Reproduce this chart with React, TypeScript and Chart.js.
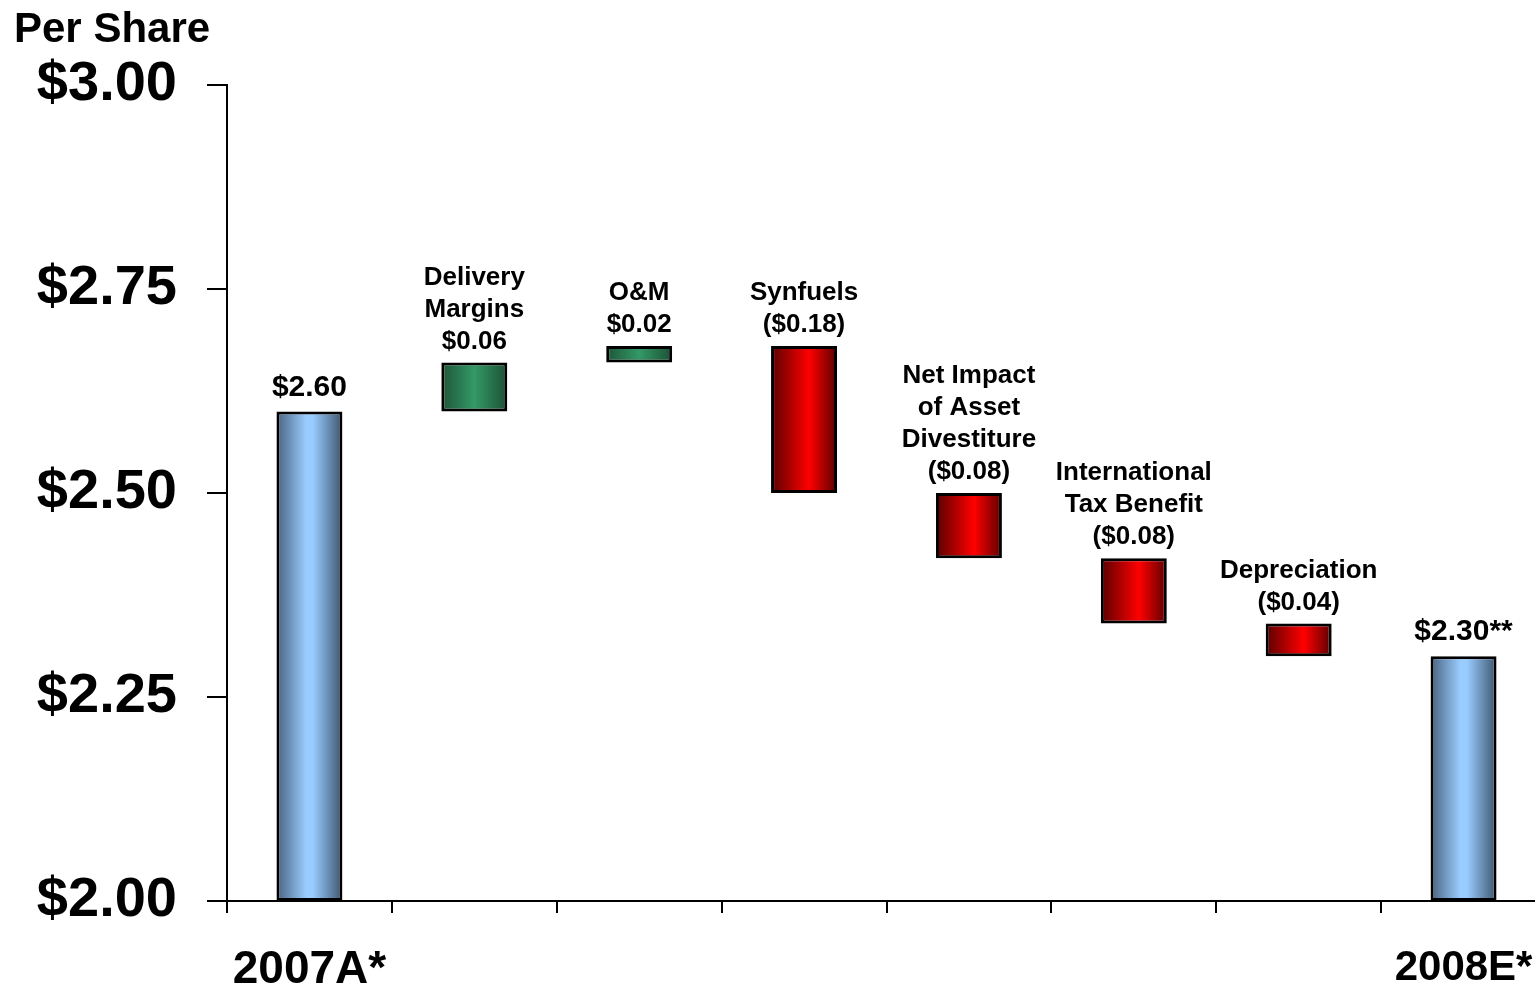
import React, { useEffect, useRef } from "react";
import { Chart, registerables } from "chart.js";

Chart.register(...registerables);

// ---- data ----
const axisLabels = ["2007A*", "", "", "", "", "", "", "2008E*"];
const startValue = 2.6;
const endValue = 2.3;
const changes = [0.06, 0.02, -0.18, -0.08, -0.08, -0.04];
const baseValue = 2.0;
const barKinds = ["total", "up", "up", "down", "down", "down", "down", "total"];
const barNotes: string[][] = [
  ["$2.60"],
  ["Delivery", "Margins", "$0.06"],
  ["O&M", "$0.02"],
  ["Synfuels", "($0.18)"],
  ["Net Impact", "of Asset", "Divestiture", "($0.08)"],
  ["International", "Tax Benefit", "($0.08)"],
  ["Depreciation", "($0.04)"],
  ["$2.30**"],
];
const yMin = 2.0;
const yMax = 3.0;
const yStep = 0.25;

function buildRanges(): [number, number][] {
  const out: [number, number][] = [[baseValue, startValue]];
  let running = startValue;
  for (const c of changes) {
    const next = Math.round((running + c) * 1000) / 1000;
    out.push([running, next]);
    running = next;
  }
  out.push([baseValue, endValue]);
  return out;
}

const FONT = "'Liberation Sans', Arial, Helvetica, sans-serif";

const gradientStops: Record<string, [number, string][]> = {
  total: [
    [0, "#48627e"],
    [0.45, "#99ccff"],
    [0.55, "#99ccff"],
    [1, "#3e556e"],
  ],
  up: [
    [0, "#1d5538"],
    [0.5, "#339966"],
    [1, "#1c5035"],
  ],
  down: [
    [0, "#5a0000"],
    [0.58, "#ff0000"],
    [1, "#5a0000"],
  ],
};

const barNotesPlugin = {
  id: "barNotes",
  afterDatasetsDraw(chart: any) {
    const ctx = chart.ctx;
    const meta = chart.getDatasetMeta(0);
    ctx.save();
    ctx.fillStyle = "#000";
    ctx.textAlign = "center";
    ctx.textBaseline = "middle";
    meta.data.forEach((bar: any, i: number) => {
      const top = Math.min(bar.y, bar.base);
      const lines = barNotes[i];
      const n = lines.length;
      const isTotal = barKinds[i] === "total";
      ctx.font = `bold ${isTotal ? 30 : 26}px ${FONT}`;
      lines.forEach((line, j) => {
        ctx.fillText(line, bar.x, top - (isTotal ? 24 : 21) - (n - 1 - j) * 32);
      });
    });
    // "Per Share" heading
    ctx.font = `bold 42px ${FONT}`;
    ctx.textAlign = "left";
    ctx.fillText("Per Share", 14, 30);
    ctx.restore();
  },
};

export default function App() {
  const ref = useRef<HTMLCanvasElement | null>(null);

  useEffect(() => {
    if (!ref.current) return;
    const ranges = buildRanges();
    const chart = new Chart(ref.current, {
      type: "bar",
      data: {
        labels: axisLabels,
        datasets: [
          {
            data: ranges as any,
            backgroundColor: (c: any) => {
              const ch = c.chart;
              const kind = barKinds[c.dataIndex] || "total";
              const xs = ch.scales?.x;
              const area = ch.chartArea;
              if (!xs || !area) return gradientStops[kind][1][1];
              const cx = xs.getPixelForValue(c.dataIndex);
              const w = ((area.right - area.left) / axisLabels.length) * 0.4;
              const g = ch.ctx.createLinearGradient(cx - w / 2, 0, cx + w / 2, 0);
              for (const [o, col] of gradientStops[kind]) g.addColorStop(o, col);
              return g;
            },
            borderColor: "#000",
            borderWidth: 3,
            borderSkipped: false,
            barPercentage: 0.4,
            categoryPercentage: 1,
          },
        ],
      },
      options: {
        animation: false,
        responsive: false,
        devicePixelRatio: 1,
        layout: { padding: { top: 85, right: 14, left: 0, bottom: 0 } },
        plugins: { legend: { display: false }, tooltip: { enabled: false } },
        scales: {
          x: {
            offset: true,
            grid: {
              display: true,
              offset: true,
              drawOnChartArea: false,
              drawTicks: true,
              tickLength: 12,
              color: "#000",
              lineWidth: 2,
            },
            border: { display: true, color: "#000", width: 2 },
            ticks: {
              autoSkip: false,
              maxRotation: 0,
              color: "#000",
              padding: 30,
              font: (c: any) => ({
                family: FONT,
                size: c.index === axisLabels.length - 1 ? 42 : 46,
                weight: "bold",
              }),
            },
            afterFit: (s: any) => {
              s.height = 86;
              s.paddingLeft = 0;
              s.paddingRight = 0;
            },
          },
          y: {
            min: yMin,
            max: yMax,
            grid: {
              display: true,
              drawOnChartArea: false,
              drawTicks: true,
              tickLength: 20,
              color: "#000",
              lineWidth: 2,
            },
            border: { display: true, color: "#000", width: 2 },
            ticks: {
              stepSize: yStep,
              color: "#000",
              padding: 30,
              font: { family: FONT, size: 56, weight: "bold" },
              callback: (v: any) => "$" + Number(v).toFixed(2),
            },
            afterFit: (s: any) => {
              s.width = 227;
            },
          },
        },
      },
      plugins: [barNotesPlugin],
    } as any);
    return () => chart.destroy();
  }, []);

  return (
    <div
      style={{
        position: "absolute",
        left: 0,
        top: 0,
        width: 1535,
        height: 987,
        overflow: "hidden",
        background: "#fff",
      }}
    >
      <canvas ref={ref} width={1560} height={987} style={{ display: "block" }} />
    </div>
  );
}
